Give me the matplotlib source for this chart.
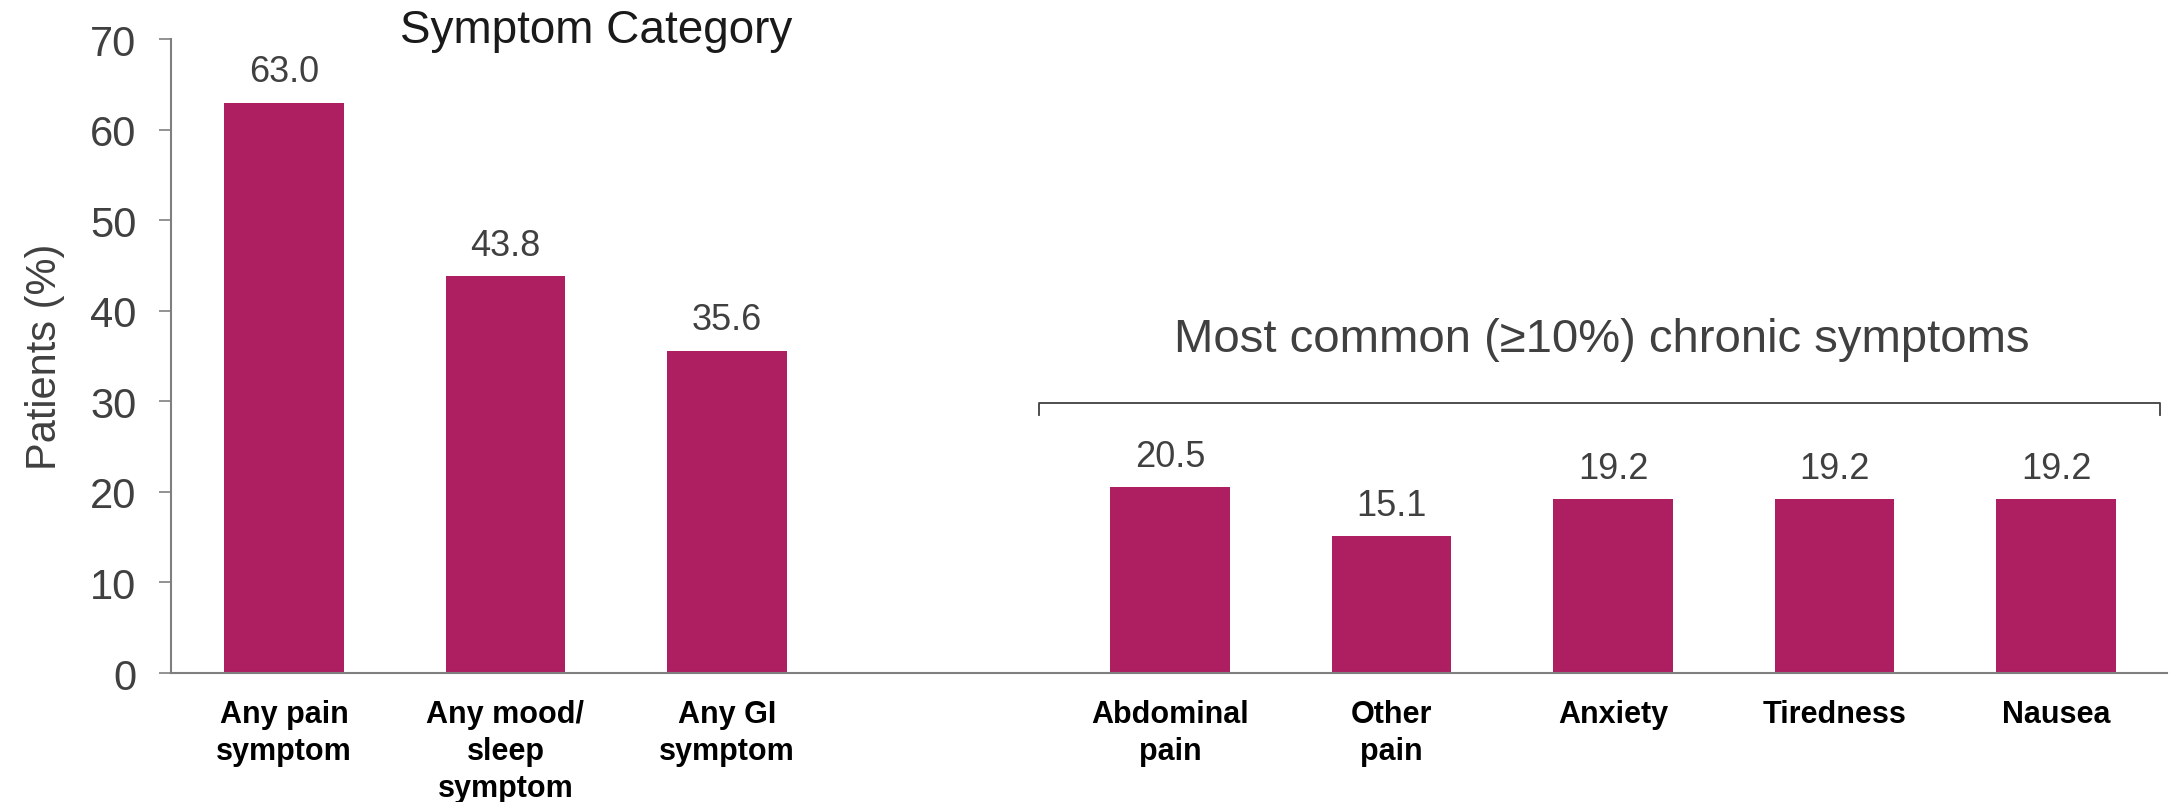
import matplotlib
matplotlib.use("Agg")
import matplotlib.pyplot as plt

plt.rcParams["font.family"] = ["Liberation Sans", "DejaVu Sans"]

# Symptom categories (left group) and individual chronic symptoms (right group)
category_labels = ["Any pain\nsymptom", "Any mood/\nsleep\nsymptom", "Any GI\nsymptom"]
category_values = [63.0, 43.8, 35.6]

symptom_labels = ["Abdominal\npain", "Other\npain", "Anxiety", "Tiredness", "Nausea"]
symptom_values = [20.5, 15.1, 19.2, 19.2, 19.2]

y_ticks = [0, 10, 20, 30, 40, 50, 60, 70]

BAR_COLOR = "#AE1F62"
TEXT_GRAY = "#404040"
AXIS_GRAY = "#7F7F7F"

labels = category_labels + symptom_labels
values = category_values + symptom_values
# leave one empty slot between the two groups
positions = list(range(len(category_values))) + [
    len(category_values) + 1 + i for i in range(len(symptom_values))
]

fig = plt.figure(figsize=(21.75, 8.03), dpi=100)
ax = fig.add_axes([0.0786, 0.1606, 0.9177, 0.7894])

bars = ax.bar(positions, values, width=0.54, color=BAR_COLOR)
for bar, v in zip(bars, values):
    ax.text(bar.get_x() + bar.get_width() / 2, v + 1.5, f"{v:.1f}",
            ha="center", va="bottom", fontsize=26, color=TEXT_GRAY)

ax.set_xlim(-0.51, 8.5)
ax.set_ylim(0, 70)
ax.set_yticks(y_ticks)
ax.tick_params(axis="y", labelsize=30, colors=TEXT_GRAY, length=9,
               width=1.2, color=AXIS_GRAY, pad=16)
ax.set_xticks(positions)
ax.set_xticklabels(labels, fontsize=22, fontweight="bold", color="black",
                   linespacing=1.3, va="top")
ax.tick_params(axis="x", length=0, pad=19)
ax.set_ylabel("Patients (%)", fontsize=30, color=TEXT_GRAY, labelpad=18)

for side in ("top", "right"):
    ax.spines[side].set_visible(False)
for side in ("left", "bottom"):
    ax.spines[side].set_color(AXIS_GRAY)
    ax.spines[side].set_linewidth(1.5)

# group headings
fig.text(0.274, 0.961, "Symptom Category", ha="center", va="center",
         fontsize=33, color="#1a1a1a")
ax.text(5.95, 36.9, "Most common (\u226510%) chronic symptoms",
        ha="center", va="center", fontsize=34, color=TEXT_GRAY)

# bracket over the right group
bx0, bx1, by, drop = 3.41, 8.47, 29.8, 1.3
ax.plot([bx0, bx0, bx1, bx1], [by - drop, by, by, by - drop],
        color=TEXT_GRAY, lw=1.3, clip_on=False)

fig.savefig("out.png", dpi=100)
